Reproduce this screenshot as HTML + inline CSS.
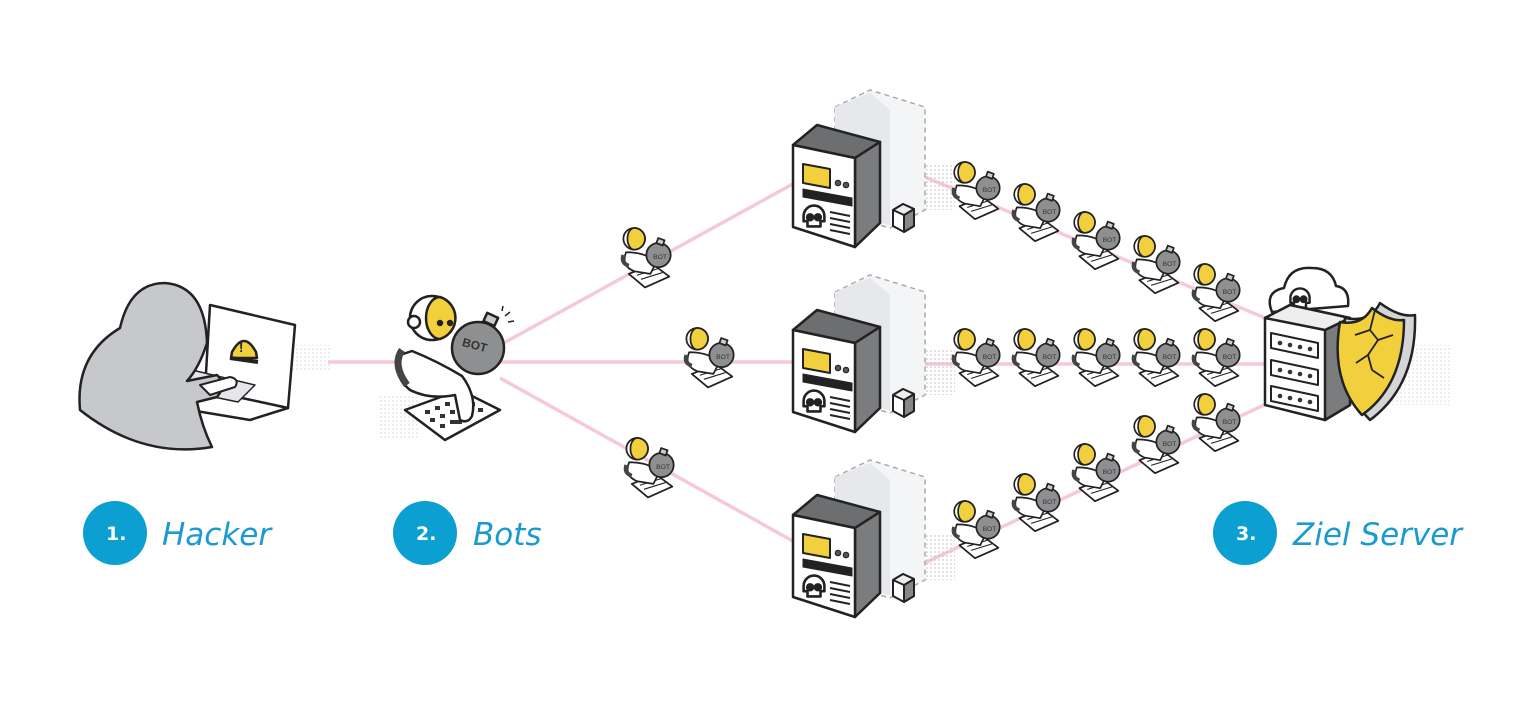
<!DOCTYPE html>
<html><head><meta charset="utf-8"><style>
html,body{margin:0;padding:0;background:#fff;}
svg{display:block}
.lbl{font-family:"DejaVu Sans","Liberation Sans",sans-serif;font-style:italic;fill:#1a9ad0;font-size:31px}
.num{font-family:"DejaVu Sans","Liberation Sans",sans-serif;fill:#fff;font-size:19px;font-weight:bold}
</style></head><body>
<svg width="1536" height="720" viewBox="0 0 1536 720" xmlns="http://www.w3.org/2000/svg">
<defs>
<pattern id="dots" width="4" height="4" patternUnits="userSpaceOnUse"><circle cx="1" cy="1" r="0.8" fill="#bbb"/></pattern>
<g id="skull">
  <path d="M0,-8 a8,8 0 0 1 8,8 v4 h-3 v4 h-10 v-4 h-3 v-4 a8,8 0 0 1 8,-8z" fill="#fff" stroke="#222" stroke-width="2"/>
  <circle cx="-3" cy="1" r="2" fill="#222"/><circle cx="3" cy="1" r="2" fill="#222"/>
</g>
<g id="server" stroke="#222" stroke-width="2.5" stroke-linejoin="round">
  <polygon points="45,22 80,5 135,22 135,125 100,143 45,128" fill="#f4f5f7" stroke="#aaa" stroke-dasharray="5,4" stroke-width="1.5"/>
  <polygon points="45,22 80,8 100,25 100,140 45,128" fill="#e6e8ec" stroke="none"/>
  <rect x="135" y="80" width="30" height="45" fill="url(#dots)" stroke="none"/>
  <polygon points="3,60 27,40 90,57 65,73" fill="#6d6e70"/>
  <polygon points="65,73 90,57 90,138 65,162" fill="#7b7c7e"/>
  <polygon points="3,60 65,73 65,162 3,142" fill="#fff"/>
  <polygon points="13,79 40,84 40,103 13,98" fill="#f2cf3c" stroke-width="2"/>
  <circle cx="48" cy="98" r="2.8" fill="#555" stroke-width="1"/>
  <circle cx="56" cy="100" r="2.8" fill="#555" stroke-width="1"/>
  <polygon points="13,104 62,113 62,121 13,112" fill="#222" stroke-width="1"/>
  <use href="#skull" transform="translate(24,131) scale(1.3)"/>
  <g stroke-width="2"><line x1="40" y1="127" x2="60" y2="131"/><line x1="40" y1="133" x2="60" y2="137"/><line x1="40" y1="139" x2="60" y2="143"/><line x1="40" y1="145" x2="60" y2="149"/></g>
  <polygon points="103,125 113,119 124,124 124,141 114,147 103,141" fill="#fff" stroke-width="2"/>
  <polygon points="114,130 124,124 124,141 114,147" fill="#888" stroke-width="2"/>
  <polygon points="103,125 113,119 124,124 114,130" fill="#eee" stroke-width="2"/>
</g>
<g id="sbot" stroke="#222" stroke-width="1.3" stroke-linejoin="round">
  <polygon points="-12,14 6,7 18,16 0,24" fill="#fff"/>
  <g stroke-width="0.8"><line x1="-6" y1="15" x2="10" y2="10"/><line x1="-3" y1="18" x2="13" y2="13"/></g>
  <path d="M-14,-2 q-4,10 6,14 l12,2 l4,-8 q-6,-8 -22,-8z" fill="#fff"/>
  <path d="M-16,0 q-2,6 4,8" fill="none" stroke="#444" stroke-width="3"/>
  <circle cx="-8" cy="-12" r="8" fill="#fff"/>
  <path d="M-8,-20 a8,8 0 0 1 0,16 a5,8 0 0 1 0,-16z" fill="#f2cf3c"/>
  <circle cx="10" cy="0" r="9" fill="#8e8f91"/>
  <rect x="9" y="-12" width="5" height="4" fill="#ccc" transform="rotate(20 11 -10)"/>
  <text x="6" y="3" font-family="Liberation Sans,sans-serif" font-size="5" fill="#333" stroke="none">BOT</text>
</g>
</defs>

<!-- shadows -->
<rect x="270" y="345" width="60" height="25" fill="url(#dots)" opacity="0.6"/>
<rect x="380" y="395" width="40" height="45" fill="url(#dots)" opacity="0.6"/>
<rect x="1370" y="345" width="80" height="60" fill="url(#dots)" opacity="0.6"/>

<!-- pink connectors -->
<g stroke="#f6c9da" stroke-width="3.5" fill="none">
  <line x1="328" y1="362" x2="400" y2="362"/>
  <line x1="500" y1="345" x2="800" y2="180"/>
  <line x1="500" y1="362" x2="800" y2="362"/>
  <line x1="500" y1="378" x2="800" y2="545"/>
  <line x1="920" y1="175" x2="1275" y2="322"/>
  <line x1="920" y1="364" x2="1275" y2="364"/>
  <line x1="920" y1="565" x2="1275" y2="400"/>
</g>

<!-- hacker -->
<g stroke="#222" stroke-width="2.5" stroke-linejoin="round">
  <polygon points="210,305 295,325 288,408 205,390" fill="#fff"/>
  <path d="M232,352 q12,-22 24,0 l1,6 h-26z" fill="#f2cf3c"/>
  <line x1="230" y1="358" x2="258" y2="362" stroke-width="4"/>
  <text x="239" y="352" font-family="Liberation Sans,sans-serif" font-size="13" font-weight="bold" fill="#222" stroke="none">!</text>
  <polygon points="175,378 205,390 288,408 250,420 160,405" fill="#fff"/>
  <polygon points="192,370 255,385 238,402 180,390" fill="#e4e6ea" stroke-width="1.5"/>
  <path d="M80,410 q-5,-55 40,-82 q10,-45 45,-45 q40,3 42,60 q-8,25 -20,38 l30,-6 q10,10 0,22 l-20,5 q5,25 15,45 q-70,12 -132,-37z" fill="#c6c8cb"/>
  <path d="M200,385 l30,-8 q10,2 5,10 l-25,8z" fill="#fff" stroke-width="2"/>
</g>

<!-- main bot -->
<g stroke="#222" stroke-width="2.5" stroke-linejoin="round">
  <polygon points="405,410 460,390 500,410 445,440" fill="#fff"/>
  <g fill="#333" stroke="none">
    <rect x="425" y="410" width="5" height="4"/><rect x="435" y="406" width="5" height="4"/><rect x="445" y="402" width="5" height="4"/><rect x="455" y="398" width="5" height="4"/>
    <rect x="430" y="418" width="5" height="4"/><rect x="440" y="414" width="5" height="4"/><rect x="450" y="410" width="5" height="4"/><rect x="460" y="406" width="5" height="4"/><rect x="470" y="402" width="5" height="4"/>
    <rect x="440" y="424" width="5" height="4"/><rect x="450" y="420" width="12" height="4"/><rect x="468" y="412" width="5" height="4"/><rect x="478" y="408" width="5" height="4"/>
  </g>
  <path d="M400,355 q-8,20 10,35 q20,10 45,5 l5,25 q8,4 12,-4 q5,-20 -10,-40 q-25,-15 -50,-25z" fill="#fff"/>
  <path d="M402,350 q-10,15 5,35" fill="none" stroke="#444" stroke-width="7"/>
  <circle cx="432" cy="318" r="22" fill="#fff"/>
  <path d="M440,297 a22,22 0 0 1 0,42 a14,21 0 0 1 0,-42z" fill="#f2cf3c"/>
  <circle cx="440" cy="323" r="2" fill="#222"/><circle cx="450" cy="323" r="2" fill="#222"/>
  <circle cx="414" cy="322" r="6" fill="#fff"/>
  <circle cx="478" cy="348" r="26" fill="#8e8f91"/>
  <rect x="485" y="315" width="12" height="9" fill="#ccc" transform="rotate(25 491 319)"/>
  <text x="462" y="350" font-family="Liberation Sans,sans-serif" font-size="12" font-weight="bold" fill="#333" stroke="none" transform="rotate(15 478 346)">BOT</text>
  <g stroke-width="1.5"><line x1="505" y1="316" x2="510" y2="312"/><line x1="508" y1="322" x2="514" y2="321"/><line x1="502" y1="311" x2="503" y2="306"/></g>
</g>

<!-- servers -->
<use href="#server" x="790" y="85"/>
<use href="#server" x="790" y="270"/>
<use href="#server" x="790" y="455"/>

<!-- small bots -->
<use href="#sbot" transform="translate(645,255) scale(1.35)"/>
<use href="#sbot" transform="translate(975,188) scale(1.3)"/><use href="#sbot" transform="translate(1035,210) scale(1.3)"/><use href="#sbot" transform="translate(1095,238) scale(1.3)"/><use href="#sbot" transform="translate(1155,262) scale(1.3)"/><use href="#sbot" transform="translate(1215,290) scale(1.3)"/>
<use href="#sbot" transform="translate(708,355) scale(1.35)"/>
<use href="#sbot" transform="translate(975,355) scale(1.3)"/><use href="#sbot" transform="translate(1035,355) scale(1.3)"/><use href="#sbot" transform="translate(1095,355) scale(1.3)"/><use href="#sbot" transform="translate(1155,355) scale(1.3)"/><use href="#sbot" transform="translate(1215,355) scale(1.3)"/>
<use href="#sbot" transform="translate(648,465) scale(1.35)"/>
<use href="#sbot" transform="translate(975,527) scale(1.3)"/><use href="#sbot" transform="translate(1035,500) scale(1.3)"/><use href="#sbot" transform="translate(1095,470) scale(1.3)"/><use href="#sbot" transform="translate(1155,442) scale(1.3)"/><use href="#sbot" transform="translate(1215,420) scale(1.3)"/>

<!-- target server -->
<g stroke="#222" stroke-width="2.5" stroke-linejoin="round">
  <path d="M1272,312 q-8,-20 12,-24 q5,-22 28,-20 q20,0 24,18 q14,2 12,20z" fill="#fff"/>
  <use href="#skull" transform="translate(1300,298) scale(1.2)"/>
  <polygon points="1265,318 1290,305 1350,318 1350,405 1325,420 1265,405" fill="#fff"/>
  <polygon points="1325,330 1350,318 1350,405 1325,420" fill="#7b7c7e"/>
  <polygon points="1265,318 1290,305 1350,318 1325,330" fill="#eee"/>
  <g fill="#fff" stroke-width="2">
    <polygon points="1271,333 1318,343 1318,358 1271,348"/>
    <polygon points="1271,360 1318,370 1318,385 1271,375"/>
    <polygon points="1271,386 1318,396 1318,411 1271,401"/>
  </g>
  <g fill="#333" stroke="none">
    <circle cx="1280" cy="343" r="2.3"/><circle cx="1290" cy="345" r="2.3"/><circle cx="1300" cy="347" r="2.3"/><circle cx="1310" cy="349" r="2.3"/>
    <circle cx="1280" cy="370" r="2.3"/><circle cx="1290" cy="372" r="2.3"/><circle cx="1300" cy="374" r="2.3"/><circle cx="1310" cy="376" r="2.3"/>
    <circle cx="1280" cy="396" r="2.3"/><circle cx="1290" cy="398" r="2.3"/><circle cx="1300" cy="400" r="2.3"/><circle cx="1310" cy="402" r="2.3"/>
  </g>
  <path d="M1345,318 q25,5 35,-15 q20,15 35,12 q2,70 -45,105 q-35,-35 -25,-102z" fill="#d4d5d7"/>
  <path d="M1340,322 q22,4 32,-14 q18,14 32,12 q0,65 -42,95 q-32,-35 -22,-93z" fill="#f2cf3c"/>
  <g fill="none" stroke-width="1.8"><path d="M1375,310 l-5,20 l8,10 l-10,15 l4,15"/><path d="M1370,330 l-15,5"/><path d="M1378,340 l15,-5"/><path d="M1368,355 l-12,8"/><path d="M1372,370 l12,8"/></g>
</g>

<!-- labels -->
<circle cx="115" cy="533" r="32" fill="#0b9fd2"/>
<text x="106" y="540" class="num">1.</text>
<text x="162" y="545" class="lbl">Hacker</text>
<circle cx="425" cy="533" r="32" fill="#0b9fd2"/>
<text x="416" y="540" class="num">2.</text>
<text x="473" y="545" class="lbl">Bots</text>
<circle cx="1245" cy="533" r="32" fill="#0b9fd2"/>
<text x="1236" y="540" class="num">3.</text>
<text x="1293" y="545" class="lbl">Ziel Server</text>
</svg>
</body></html>
